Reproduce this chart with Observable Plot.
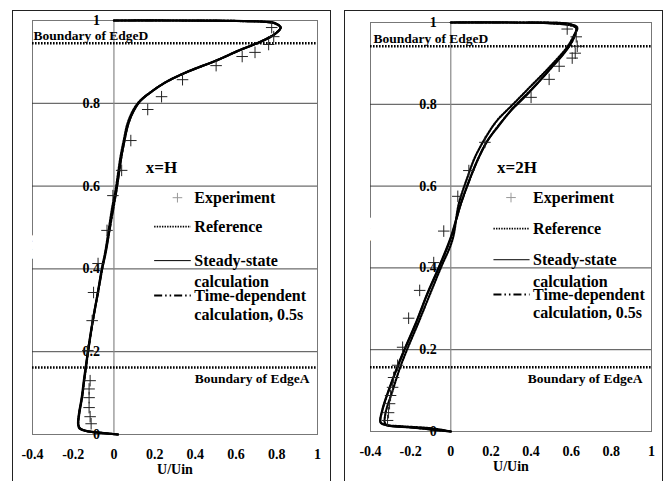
<!DOCTYPE html>
<html>
<head>
<meta charset="utf-8">
<script src="https://cdn.jsdelivr.net/npm/d3@7"></script>
<script src="https://cdn.jsdelivr.net/npm/@observablehq/plot@0.6"></script>
<style>
  html, body { margin: 0; padding: 0; background: white; overflow: hidden; }
  #wrap { position: relative; width: 667px; height: 481px; }
  .panel { position: absolute; top: 10px; }
  .box { position: absolute; top: 10px; height: 490px; border: 1.5px solid #222; box-sizing: border-box; pointer-events: none; }
  #wrap svg, #wrap svg text { font-family: "Liberation Serif", "Tinos", "Times New Roman", "DejaVu Serif", serif !important; }
</style>
</head>
<body>
<div id="wrap">
  <div id="p1" class="panel" style="left:13px"></div>
  <div id="p2" class="panel" style="left:345px"></div>
  <div class="box" style="left:12px; width:319px"></div>
  <div class="box" style="left:344px; width:319px"></div>
</div>
<script>
// ---------- tick labels ----------
const xTicks = [-0.4, -0.2, 0, 0.2, 0.4, 0.6, 0.8, 1];
const yTicks = [0, 0.2, 0.4, 0.6, 0.8, 1];
const gridY = [0.2, 0.4, 0.6, 0.8];
const legendLabels = ["Experiment", "Reference", "Steady-state", "calculation", "Time-dependent", "calculation, 0.5s"];
const boundaryLabels = ["Boundary of EdgeD", "Boundary of EdgeA"];
const panelTitles = ["x=H", "x=2H"];

// ---------- boundaries (y/H) ----------
const edgesH = [0.945, 0.162];
const edges2H = [0.942, 0.157];

// ---------- x = H ----------
const steadyY_H = [0, 0.004, 0.008, 0.015, 0.025, 0.05, 0.09, 0.13, 0.162, 0.2, 0.27, 0.34, 0.40, 0.44, 0.5, 0.55, 0.59, 0.63, 0.67, 0.71, 0.75, 0.783, 0.805, 0.823, 0.85, 0.875, 0.903, 0.928, 0.947, 0.959, 0.971, 0.983, 0.993, 0.997, 0.999, 1.0, 1.0];
const steadyU_H = [0.02, -0.06, -0.13, -0.168, -0.176, -0.172, -0.158, -0.148, -0.139, -0.128, -0.106, -0.08, -0.058, -0.04, -0.02, -0.004, 0.012, 0.024, 0.036, 0.052, 0.07, 0.098, 0.128, 0.17, 0.25, 0.355, 0.50, 0.615, 0.712, 0.765, 0.80, 0.82, 0.795, 0.74, 0.6, 0.3, 0.0];
const refY_H = [0, 0.004, 0.008, 0.015, 0.025, 0.05, 0.09, 0.13, 0.162, 0.2, 0.27, 0.34, 0.40, 0.44, 0.5, 0.55, 0.59, 0.63, 0.67, 0.71, 0.75, 0.783, 0.805, 0.823, 0.85, 0.875, 0.903, 0.928, 0.947, 0.959, 0.971, 0.983, 0.993, 0.997, 0.999, 1.0, 1.0];
const refU_H = [0.02, -0.065, -0.135, -0.17, -0.175, -0.17, -0.156, -0.146, -0.137, -0.127, -0.105, -0.08, -0.06, -0.043, -0.024, -0.008, 0.008, 0.02, 0.032, 0.048, 0.066, 0.094, 0.126, 0.17, 0.252, 0.357, 0.502, 0.617, 0.712, 0.764, 0.80, 0.818, 0.79, 0.73, 0.58, 0.3, 0.0];
const timeY_H = [0, 0.004, 0.008, 0.015, 0.025, 0.05, 0.09, 0.162, 0.2, 0.27, 0.34, 0.40, 0.5, 0.59, 0.67, 0.75, 0.783, 0.805, 0.823, 0.85, 0.875, 0.903, 0.928, 0.947, 0.971, 0.983, 0.993, 0.999, 1.0, 1.0];
const timeU_H = [0.02, -0.06, -0.13, -0.167, -0.175, -0.171, -0.157, -0.138, -0.127, -0.105, -0.079, -0.057, -0.019, 0.013, 0.037, 0.071, 0.099, 0.129, 0.171, 0.251, 0.356, 0.501, 0.616, 0.712, 0.80, 0.819, 0.792, 0.6, 0.3, 0.0];
const expY_H = [0.983, 0.961, 0.942, 0.923, 0.913, 0.891, 0.857, 0.816, 0.785, 0.710, 0.638, 0.577, 0.493, 0.413, 0.343, 0.275, 0.203, 0.130, 0.110, 0.089, 0.065, 0.043, 0.026];
const expU_H = [0.775, 0.785, 0.76, 0.693, 0.63, 0.502, 0.337, 0.234, 0.166, 0.083, 0.038, -0.005, -0.034, -0.078, -0.100, -0.107, -0.128, -0.117, -0.122, -0.122, -0.122, -0.117, -0.112];

// ---------- x = 2H ----------
const steadyY_2H = [0, 0.005, 0.01, 0.015, 0.022, 0.051, 0.10, 0.157, 0.198, 0.264, 0.337, 0.401, 0.468, 0.49, 0.557, 0.614, 0.663, 0.711, 0.744, 0.785, 0.817, 0.852, 0.889, 0.916, 0.942, 0.965, 0.986, 0.995, 0.998, 1.0, 1.0];
const steadyU_2H = [0.0, -0.1, -0.2, -0.317, -0.35, -0.342, -0.31, -0.267, -0.233, -0.175, -0.117, -0.06, -0.005, 0.01, 0.05, 0.092, 0.133, 0.183, 0.233, 0.30, 0.367, 0.433, 0.50, 0.55, 0.59, 0.615, 0.625, 0.6, 0.5, 0.3, 0.0];
const refY_2H = [0, 0.008, 0.013, 0.018, 0.04, 0.1, 0.16, 0.2, 0.27, 0.34, 0.4, 0.468, 0.557, 0.62, 0.67, 0.72, 0.76, 0.80, 0.85, 0.89, 0.94, 0.97, 0.988, 0.997, 1.0, 1.0];
const refU_2H = [0.0, -0.1, -0.25, -0.325, -0.327, -0.29, -0.25, -0.218, -0.158, -0.1, -0.05, 0.008, 0.04, 0.082, 0.12, 0.175, 0.23, 0.31, 0.41, 0.49, 0.58, 0.615, 0.63, 0.58, 0.3, 0.0];
const timeY_2H = [0, 0.005, 0.01, 0.015, 0.022, 0.051, 0.10, 0.157, 0.198, 0.264, 0.337, 0.401, 0.468, 0.557, 0.614, 0.663, 0.711, 0.785, 0.852, 0.889, 0.942, 0.965, 0.986, 0.998, 1.0, 1.0];
const timeU_2H = [0.0, -0.1, -0.2, -0.316, -0.349, -0.341, -0.309, -0.266, -0.232, -0.174, -0.116, -0.059, -0.003, 0.051, 0.093, 0.133, 0.183, 0.30, 0.433, 0.50, 0.59, 0.615, 0.625, 0.5, 0.3, 0.0];
const expY_2H = [0.984, 0.965, 0.942, 0.925, 0.913, 0.893, 0.861, 0.817, 0.707, 0.638, 0.575, 0.49, 0.413, 0.345, 0.277, 0.206, 0.162, 0.132, 0.108, 0.088, 0.068, 0.046, 0.027];
const expU_2H = [0.58, 0.625, 0.63, 0.62, 0.605, 0.54, 0.49, 0.40, 0.17, 0.09, 0.035, -0.035, -0.085, -0.155, -0.21, -0.24, -0.265, -0.285, -0.29, -0.30, -0.305, -0.31, -0.315];

const zip = (ys, us) => ys.map((y, i) => ({y, u: us[i]}));

const FONT = "Liberation Serif";

function panel(cfg) {
  const L = cfg.legend;
  const halo = {stroke: "white", strokeWidth: 3, paintOrder: "stroke"};
  return Plot.plot({
    width: 317, height: 471,
    marginLeft: cfg.ml, marginRight: cfg.mr, marginTop: cfg.mt, marginBottom: cfg.mb,
    x: {domain: [-0.4, 1]},
    y: {domain: [0, 1], axis: null},
    style: {fontFamily: FONT, fontSize: "14px", fontWeight: "bold", background: "white", color: "black", overflow: "visible"},
    marks: [
      Plot.frame({stroke: "#777", strokeWidth: 1}),
      Plot.ruleY(gridY, {stroke: "#333", strokeWidth: 0.9}),
      Plot.ruleX([0], {stroke: "#888", strokeWidth: 1.2}),
      Plot.axisX(xTicks, {tickSize: 0, tickPadding: 15, tickFormat: d => String(d), label: null, fontSize: 14, fontFamily: FONT}),
      Plot.text(["U/Uin"], {frameAnchor: "bottom", dy: 39, text: d => d, fontSize: 14, fontFamily: FONT}),
      Plot.text(["y/H"], {x: -0.4, y: cfg.yLabelY, text: d => d, rotate: -90, dx: cfg.yLabelDx, fontSize: 14, fontFamily: FONT, ...halo}),
      Plot.text(yTicks, {x: 0, y: d => d, text: d => String(d), textAnchor: "end", dx: -14, fontSize: 14, fontFamily: FONT}),
      Plot.ruleY(cfg.edges, {stroke: "black", strokeWidth: 2.6, strokeDasharray: "1.6,1.4"}),
      Plot.text([boundaryLabels[0]], {x: -0.4, y: cfg.edges[0], text: d => d, textAnchor: "start", lineAnchor: "bottom", dx: cfg.bdDx, dy: -3, fontSize: 13.5, fontFamily: FONT}),
      Plot.text([boundaryLabels[1]], {x: 1, y: cfg.edges[1], text: d => d, textAnchor: "end", lineAnchor: "top", dx: cfg.baDx, dy: 6, fontSize: 13.5, fontFamily: FONT}),
      Plot.text([cfg.title], {x: cfg.titleX, y: 0.645, text: d => d, fontSize: 17, fontFamily: FONT}),
      // curves
      Plot.line(cfg.ref, {x: "u", y: "y", curve: "catmull-rom", stroke: "black", strokeWidth: 2.2, strokeDasharray: "1.6,1.4"}),
      Plot.line(cfg.steady, {x: "u", y: "y", curve: "catmull-rom", stroke: "black", strokeWidth: 2.2}),
      Plot.line(cfg.time, {x: "u", y: "y", curve: "catmull-rom", stroke: "black", strokeWidth: 2, strokeDasharray: "8,2,1.5,2,1.5,2"}),
      Plot.dot(cfg.exp, {x: "u", y: "y", symbol: "plus", r: 3.8, stroke: "#222", strokeWidth: 1}),
      // legend
      Plot.dot([L.ys[0]], {x: L.mark, y: d => d, symbol: "plus", r: 3.2, stroke: "#999", strokeWidth: 1}),
      Plot.ruleY([L.ys[1]], {x1: L.x1, x2: L.x2, stroke: "black", strokeWidth: 1.6, strokeDasharray: "1.4,1.2"}),
      Plot.ruleY([L.ys[2]], {x1: L.x1, x2: L.x2, stroke: "black", strokeWidth: 1}),
      Plot.ruleY([L.ys[4]], {x1: L.x1, x2: L.x2, stroke: "black", strokeWidth: 2, strokeDasharray: "8,3,1.5,3,1.5,3"}),
      Plot.text(legendLabels, {x: L.tx, y: (d, i) => L.ys[i], text: d => d, textAnchor: "start", fontSize: 16, fontFamily: FONT})
    ]
  });
}

document.getElementById("p1").append(panel({
  ml: 19, mr: 13, mt: 10, mb: 47,
  edges: edgesH, title: panelTitles[0], titleX: 0.234,
  yLabelY: 0.454, yLabelDx: 3, bdDx: 1, baDx: -8,
  steady: zip(steadyY_H, steadyU_H), ref: zip(refY_H, refU_H), time: zip(timeY_H, timeU_H), exp: zip(expY_H, expU_H),
  legend: {mark: 0.312, x1: 0.2, x2: 0.38, tx: 0.395, ys: [0.572, 0.502, 0.42, 0.368, 0.336, 0.290]}
}));
document.getElementById("p2").append(panel({
  ml: 25, mr: 11, mt: 12, mb: 50,
  edges: edges2H, title: panelTitles[1], titleX: 0.33,
  yLabelY: 0.496, yLabelDx: 1, bdDx: 3, baDx: -9,
  steady: zip(steadyY_2H, steadyU_2H), ref: zip(refY_2H, refU_2H), time: zip(timeY_2H, timeU_2H), exp: zip(expY_2H, expU_2H),
  legend: {mark: 0.30, x1: 0.215, x2: 0.395, tx: 0.41, ys: [0.572, 0.496, 0.42, 0.367, 0.335, 0.289]}
}));
</script>
</body>
</html>
